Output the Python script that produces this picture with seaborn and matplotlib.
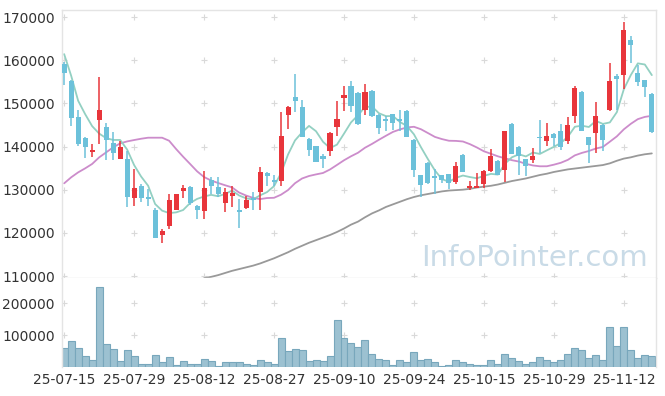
import numpy as np
import pandas as pd
import matplotlib
matplotlib.use("Agg")
import matplotlib.pyplot as plt
import seaborn as sns

# 거래일 (주말 + 휴장일 제외)
holidays = ["2025-08-15", "2025-10-03", "2025-10-06", "2025-10-07", "2025-10-08", "2025-10-09"]
dates = [d for d in pd.bdate_range("2025-07-15", "2025-11-18") if d.strftime("%Y-%m-%d") not in holidays]

opens = [159200, 155200, 146900, 142000, 138700, 146200, 144600, 140900, 137000, 137000,
         128000, 130900, 128400, 125200, 119500, 121500, 125300, 129600, 130700, 126300,
         125000, 132300, 130700, 126800, 128500, 125400, 125700, 128100, 129400, 133900,
         132300, 131900, 147400, 151500, 149200, 141800, 140100, 137800, 138900, 144600,
         151300, 154100, 152500, 148400, 152900, 147400, 146400, 147500, 146300, 148300,
         141600, 133300, 136200, 133100, 133400, 133600, 131700, 138100, 130300, 130500,
         131200, 134400, 136700, 134600, 145300, 140000, 137100, 136900, 142100, 141200,
         143000, 143600, 141200, 147000, 152700, 142100, 143100, 145000, 148400, 156400,
         156500, 164700, 157100, 155400, 152200]
highs = [159500, 155300, 148400, 142300, 140600, 156100, 145500, 143300, 141300, 139000,
         134900, 131300, 130200, 125800, 120900, 129000, 129000, 131100, 130900, 126400,
         134400, 132900, 132900, 130500, 130800, 127900, 128600, 129400, 135200, 134000,
         133400, 148000, 149300, 156800, 150800, 142000, 140200, 138300, 143300, 150600,
         154100, 155200, 152700, 154500, 153100, 147500, 147100, 147600, 148400, 148400,
         141700, 133400, 136300, 134900, 133500, 133700, 136300, 138200, 132100, 133900,
         134500, 139400, 136800, 143700, 145400, 140100, 137200, 139700, 146200, 145400,
         143100, 145200, 146900, 154100, 152800, 142200, 150200, 145100, 159300, 156800,
         168900, 165600, 158800, 155500, 152500]
lows = [154300, 144800, 140100, 137300, 137600, 140600, 136900, 136900, 137000, 125900,
        126200, 127100, 126200, 118800, 117700, 120900, 125200, 128100, 126500, 123200,
        123100, 128900, 128200, 124900, 125900, 121200, 125500, 125200, 125300, 130900,
        130800, 130800, 144000, 148100, 142300, 137900, 136300, 135000, 137900, 142500,
        148300, 147900, 145000, 147400, 146800, 143000, 143500, 143800, 143500, 142200,
        132900, 128200, 131300, 129000, 131500, 130200, 131300, 134100, 129900, 130400,
        130500, 134200, 133300, 131700, 138200, 133300, 133200, 136100, 138600, 140200,
        140200, 139300, 140600, 145400, 143600, 136200, 138500, 139000, 148300, 148500,
        153300, 159300, 154100, 151400, 143200]
closes = [157100, 146700, 140500, 140000, 139300, 148500, 141400, 138400, 140000, 128200,
          130500, 128100, 127800, 118800, 120500, 127700, 128900, 130500, 126900, 125300,
          130500, 130800, 128900, 129500, 129300, 124800, 127500, 127600, 134200, 133100,
          131700, 142500, 149200, 150600, 142300, 139300, 136300, 137000, 143200, 146400,
          152000, 149300, 145300, 152700, 147000, 144200, 146000, 145400, 145800, 142300,
          134600, 131100, 131500, 132700, 132300, 131600, 135600, 134200, 130900, 130900,
          134400, 137900, 133400, 143500, 138300, 137900, 135400, 137900, 141900, 142500,
          141900, 140000, 145000, 153500, 143700, 140400, 147100, 141500, 155200, 155600,
          167000, 163500, 155000, 153900, 143300]

ma5 = [161400, 156400, 150600, 147500, 144720, 143000, 141940, 141520, 141520, 139300,
       135700, 133040, 130920, 126680, 125140, 124580, 124740, 125280, 126900, 127860,
       128420, 128800, 128480, 129000, 129800, 128660, 128000, 127740, 128680, 129440,
       130820, 133820, 138140, 141420, 143260, 144780, 143540, 141100, 139620, 140440,
       142980, 145580, 147240, 149140, 149260, 147700, 147040, 147060, 145680, 144740,
       142820, 139840, 137060, 134440, 132440, 131840, 132740, 133280, 132920, 132640,
       133200, 133660, 133500, 136020, 137500, 138200, 137700, 138600, 138280, 139120,
       139920, 140840, 142260, 144580, 144820, 144520, 145940, 145240, 145580, 147960,
       153280, 156560, 159260, 159000, 156540]
ma20 = [131470, 132860, 134010, 134940, 135960, 137480, 138640, 139800, 140720, 141180,
        141500, 141800, 142040, 142040, 142040, 141340, 139420, 137640, 135960, 134255,
        132925, 132130, 131550, 131025, 130525, 129340, 128645, 128105, 127815, 128060,
        128120, 128840, 129910, 131500, 132590, 133170, 133540, 133865, 134680, 135735,
        136810, 137735, 138555, 139715, 140600, 141570, 142495, 143385, 143965, 144425,
        144570, 144000, 143115, 142220, 141720, 141335, 141300, 141160, 140545, 139770,
        138890, 138320, 137725, 137265, 136830, 136515, 135985, 135610, 135415, 135425,
        135790, 136235, 136910, 137950, 138520, 138960, 139535, 139900, 141115, 142350,
        143980, 145260, 146340, 146860, 147115]
# 60일선은 앞부분이 차트 아래로 잘려 보이지 않음
ma60 = [np.nan] * 20 + [
        109500, 109800, 110200, 110700, 111200, 111600, 112000, 112400, 112900, 113500,
        114100, 114800, 115500, 116300, 117000, 117700, 118300, 118900, 119500, 120200,
        121000, 121900, 122600, 123600, 124500, 125200, 126000, 126600, 127200, 127800,
        128300, 128700, 129000, 129300, 129600, 129800, 129900, 130000, 130200, 130500,
        130700, 130900, 131200, 131600, 132000, 132300, 132600, 133000, 133400, 133700,
        134100, 134400, 134700, 134900, 135100, 135300, 135500, 135700, 136100, 136700,
        137200, 137500, 137900, 138200, 138400]

volumes = [61000, 82700, 61000, 36200, 21700, 250800, 73400, 57900, 18600, 52600,
           36200, 11500, 11500, 39300, 15500, 33100, 8400, 18600, 11500, 11500,
           26900, 18600, 5300, 15500, 15500, 15500, 11500, 8400, 23800, 15500,
           11500, 91900, 49500, 57900, 52600, 18600, 23800, 18600, 34100, 147700,
           91900, 77400, 64000, 85800, 42400, 26900, 21700, 8400, 23800, 15500,
           48600, 23800, 26900, 17600, 5300, 8400, 23800, 15500, 11500, 8400,
           8400, 21700, 11500, 42400, 30000, 18600, 11500, 15500, 33100, 23800,
           15500, 23800, 42400, 61000, 52600, 30000, 39300, 23800, 126000, 67200,
           126000, 52600, 30000, 39300, 36200]

df = pd.DataFrame({"idx": np.arange(len(dates)), "date": dates, "open": opens, "high": highs,
                   "low": lows, "close": closes, "ma5": ma5, "ma20": ma20, "ma60": ma60,
                   "volume": volumes})

sns.set_style("white")
plt.rcParams["font.family"] = ["DejaVu Sans"]

red = "#e8353b"
blue = "#6cc1da"
grid_c = "#d9d9d9"
spine_c = "#e4e4e4"
text_c = "#333333"

fig = plt.figure(figsize=(6.65, 3.96), dpi=100)
ax = fig.add_axes([0.0928, 0.2980, 0.8937, 0.6767])
axv = fig.add_axes([0.0928, 0.0725, 0.8937, 0.2255], sharex=ax)

xticks = list(range(0, len(dates), 10))

# 그리드 대신 교차점에 + 표시
for yv in range(110000, 170001, 10000):
    ax.scatter(xticks, [yv] * len(xticks), marker="+", s=22, color=grid_c, linewidths=0.8, zorder=1)
for yv in [100000, 200000]:
    axv.scatter(xticks, [yv] * len(xticks), marker="+", s=22, color=grid_c, linewidths=0.8, zorder=1)

# 워터마크
ax.text(0.987, 0.045, "InfoPointer.com", transform=ax.transAxes, ha="right", va="baseline",
        fontsize=21, color="#c9dbe7", zorder=1)

# 이동평균선
sns.lineplot(data=df, x="idx", y="ma20", ax=ax, color="#cc8ccb", linewidth=1.3, zorder=2)
sns.lineplot(data=df, x="idx", y="ma60", ax=ax, color="#999999", linewidth=1.3, zorder=2)
sns.lineplot(data=df, x="idx", y="ma5", ax=ax, color="#93d0c2", linewidth=1.3, zorder=2)

# 캔들
up = df["close"] >= df["open"]
colors = np.where(up, red, blue)
ax.vlines(df["idx"], df["low"], df["high"], colors=colors, linewidth=1.1, zorder=3)
body_bottom = np.minimum(df["open"], df["close"])
body_h = np.maximum(np.abs(df["close"] - df["open"]), 250)
ax.bar(df["idx"], body_h, bottom=body_bottom, width=0.72, color=colors, linewidth=0, zorder=4)

# 거래량
axv.bar(df["idx"], df["volume"], width=1.0, color="#9cc1d1", edgecolor="#78a7bc", linewidth=0.8, zorder=2)

ax.set_xlim(-0.35, 84.6)
ax.set_ylim(109540, 171620)
axv.set_ylim(0, 279000)

ax.set_yticks(range(110000, 170001, 10000))
ax.set_yticklabels([str(v) for v in range(110000, 170001, 10000)])
axv.set_yticks([100000, 200000])
axv.set_yticklabels(["100000", "200000"])
axv.set_xticks(xticks)
axv.set_xticklabels([dates[i].strftime("%y-%m-%d") for i in xticks])
ax.tick_params(axis="x", labelbottom=False, length=0)
ax.tick_params(axis="y", length=0, pad=5, labelsize=10, labelcolor=text_c)
axv.tick_params(axis="both", length=0, labelsize=10, labelcolor=text_c)
axv.tick_params(axis="y", pad=5)
axv.tick_params(axis="x", pad=4)

for a in (ax, axv):
    a.set_xlabel("")
    a.set_ylabel("")
    for s in a.spines.values():
        s.set_color(spine_c)
        s.set_linewidth(1.0)
axv.spines["top"].set_visible(False)
axv.spines["bottom"].set_visible(False)

fig.savefig("out.png", dpi=100)
